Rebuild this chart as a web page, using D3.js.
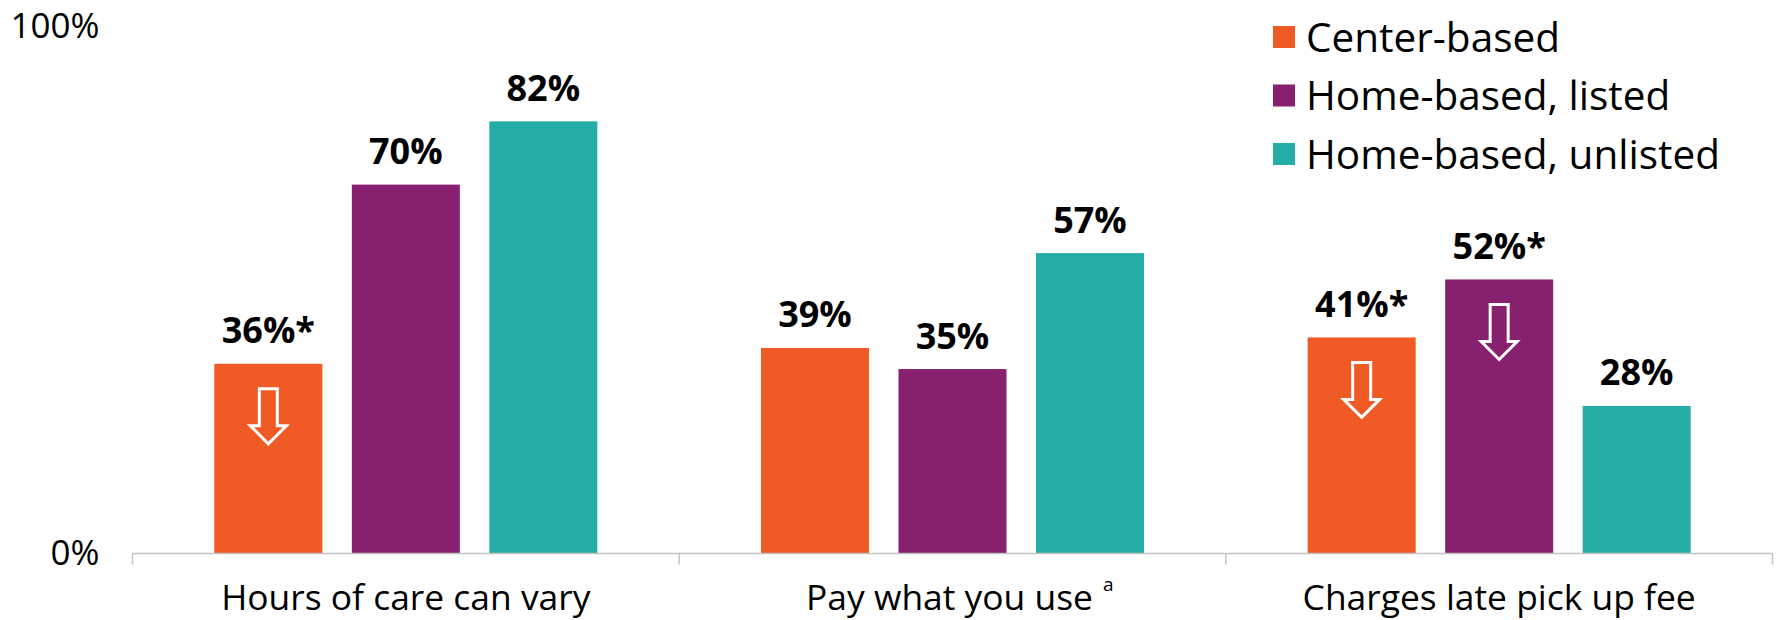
<!DOCTYPE html>
<html>
<head>
<meta charset="utf-8">
<script src="https://cdn.jsdelivr.net/npm/d3@7"></script>
<style>
  html, body { margin: 0; padding: 0; background: #ffffff; }
  svg { display: block; font-family: "Open Sans", "Noto Sans", sans-serif; }
</style>
</head>
<body>
<svg id="chart" width="1777" height="620"></svg>
<script>
// Provider features by type of care
const categories = ["Hours of care can vary", "Pay what you use", "Charges late pick up fee"];
const categoryNotes = ["", "a", ""];
const seriesNames = ["Center-based", "Home-based, listed", "Home-based, unlisted"];
const seriesColors = ["#F05A24", "#86206F", "#24ACA6"];

// Percent values, one array per series (in category order)
const centerBased = [36, 39, 41];
const homeListed = [70, 35, 52];
const homeUnlisted = [82, 57, 28];

// Significance flags (asterisk + downward arrow), per series
const centerSig = [true, false, true];
const listedSig = [false, false, true];
const unlistedSig = [false, false, false];

const yTicks = [0, 100];

const seriesValues = [centerBased, homeListed, homeUnlisted];
const seriesSig = [centerSig, listedSig, unlistedSig];

const rows = [];
categories.forEach((c, ci) => {
  seriesNames.forEach((s, si) => {
    rows.push({ category: c, series: s, si, value: seriesValues[si][ci], sig: seriesSig[si][ci] });
  });
});

const svg = d3.select("#chart");
const margin = { left: 132.5, right: 4.5, top: 26.5, bottom: 66.5 };
const W = 1777, H = 620;

const x0 = d3.scaleBand()
  .domain(categories)
  .range([margin.left, W - margin.right])
  .paddingInner(0).paddingOuter(0);

const x1 = d3.scaleBand()
  .domain(seriesNames)
  .range([0, x0.bandwidth()])
  .paddingInner(0.2145)
  .paddingOuter(0.595);

const y = d3.scaleLinear()
  .domain([0, 100])
  .range([H - margin.bottom, margin.top]);

const color = d3.scaleOrdinal().domain(seriesNames).range(seriesColors);

// Bars
const bars = svg.append("g").selectAll("g.bar")
  .data(rows)
  .join("g")
  .attr("class", "bar")
  .attr("transform", d => `translate(${x0(d.category) + x1(d.series)},0)`);

bars.append("rect")
  .attr("x", 0)
  .attr("y", d => y(d.value))
  .attr("width", x1.bandwidth())
  .attr("height", d => y(0) - y(d.value))
  .attr("fill", d => color(d.series));

// Value labels
bars.append("text")
  .attr("x", x1.bandwidth() / 2)
  .attr("y", d => y(d.value) - 20.5)
  .attr("text-anchor", "middle")
  .attr("font-size", 36)
  .attr("font-weight", 700)
  .attr("fill", "#000")
  .text(d => d.value + "%" + (d.sig ? "*" : ""));

// Open downward arrows inside significant bars
const aw = 36, sw = 18, ah = 55, hh = 18;
const arrowPath = [
  [-sw / 2, 0], [sw / 2, 0], [sw / 2, ah - hh], [aw / 2, ah - hh],
  [0, ah], [-aw / 2, ah - hh], [-sw / 2, ah - hh]
];
bars.filter(d => d.sig)
  .append("path")
  .attr("transform", d => `translate(${x1.bandwidth() / 2},${y(d.value) + 25})`)
  .attr("d", d3.line()(arrowPath) + "Z")
  .attr("fill", "none")
  .attr("stroke", "#ffffff")
  .attr("stroke-width", 3)
  .attr("stroke-linejoin", "miter");

// Baseline axis with boundary ticks
const axisColor = "#c3c3c3";
svg.append("line")
  .attr("x1", x0.range()[0]).attr("x2", x0.range()[1])
  .attr("y1", y(0)).attr("y2", y(0))
  .attr("stroke", axisColor).attr("stroke-width", 1.5);

const bounds = categories.map(c => x0(c)).concat([x0.range()[1]]);
svg.append("g").selectAll("line")
  .data(bounds)
  .join("line")
  .attr("x1", d => d).attr("x2", d => d)
  .attr("y1", y(0)).attr("y2", y(0) + 11)
  .attr("stroke", axisColor).attr("stroke-width", 1.5);

// Category labels
const catLabels = svg.append("g").selectAll("g")
  .data(categories)
  .join("g");

catLabels.append("text")
  .attr("class", "cat")
  .attr("x", d => x0(d) + x0.bandwidth() / 2 - (categoryNotes[categories.indexOf(d)] ? 3 : 0))
  .attr("y", 610)
  .attr("text-anchor", "middle")
  .attr("font-size", 35.4)
  .attr("fill", "#000")
  .text(d => d);

catLabels.each(function (d, i) {
  if (!categoryNotes[i]) return;
  const t = d3.select(this).select("text.cat");
  const len = t.node().getComputedTextLength();
  const cx = +t.attr("x");
  d3.select(this).append("text")
    .attr("x", cx + len / 2 + 10)
    .attr("y", 591)
    .attr("font-size", 19)
    .attr("fill", "#000")
    .text(categoryNotes[i]);
});

// Y axis labels
const yAxis = d3.axisLeft(y)
  .tickValues(yTicks)
  .tickSize(0)
  .tickPadding(33)
  .tickFormat(d => d + "%");

const yg = svg.append("g")
  .attr("transform", `translate(${margin.left},0)`)
  .call(yAxis);
yg.select(".domain").remove();
yg.selectAll("text")
  .attr("font-size", 35)
  .attr("font-family", "\"Open Sans\", \"Noto Sans\", sans-serif")
  .attr("fill", "#000");

// Legend
const legend = svg.append("g").selectAll("g")
  .data(seriesNames)
  .join("g")
  .attr("transform", (d, i) => `translate(1273,${37 + i * 58.5})`);

legend.append("rect")
  .attr("x", 0).attr("y", -11)
  .attr("width", 22).attr("height", 22)
  .attr("fill", d => color(d));

legend.append("text")
  .attr("x", 33)
  .attr("y", 0)
  .attr("dy", "0.36em")
  .attr("font-size", 40.5)
  .attr("fill", "#000")
  .text(d => d);
</script>
</body>
</html>
